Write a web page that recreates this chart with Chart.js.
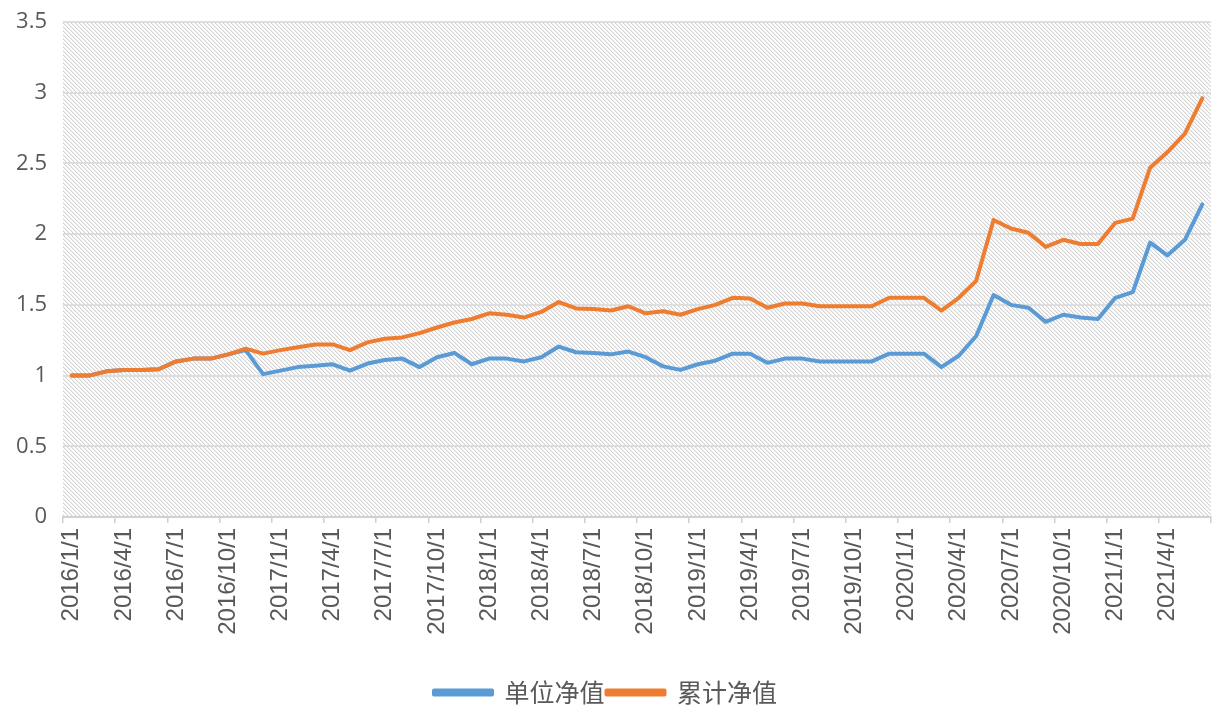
<!DOCTYPE html>
<html lang="zh">
<head>
<meta charset="UTF-8">
<title>净值走势</title>
<script src="https://cdn.jsdelivr.net/npm/chart.js"></script>
<style>
  html, body { margin: 0; padding: 0; background: #fff; }
  #wrap { width: 1214px; height: 707px; }
</style>
</head>
<body>
<div id="wrap"><canvas id="myChart" width="1214" height="707"></canvas></div>
<script>
// monthly dates, 2016/1 .. 2021/6
var meses = [];
for (var y = 2016; y <= 2021; y++) {
    for (var m = 1; m <= 12; m++) {
        if (y === 2021 && m > 6) break;
        meses.push(y + '/' + m + '/1');
    }
}

var nombreUnidad = '单位净值';
var nombreAcum = '累计净值';

var unidad = [1.00, 1.00, 1.03, 1.04, 1.04, 1.045, 1.10, 1.12, 1.12, 1.15,
    1.18, 1.01, 1.035, 1.06, 1.07, 1.08, 1.035, 1.085, 1.11, 1.12,
    1.06, 1.13, 1.16, 1.08, 1.12, 1.12, 1.10, 1.13, 1.205, 1.165,
    1.16, 1.15, 1.17, 1.13, 1.065, 1.04, 1.08, 1.105, 1.155, 1.155,
    1.09, 1.12, 1.12, 1.10, 1.10, 1.10, 1.10, 1.155, 1.155, 1.155,
    1.06, 1.14, 1.28, 1.57, 1.50, 1.48, 1.38, 1.43, 1.41, 1.40,
    1.55, 1.59, 1.94, 1.85, 1.96, 2.21];

var acumulado = [1.00, 1.00, 1.03, 1.04, 1.04, 1.045, 1.10, 1.12, 1.12, 1.15,
    1.19, 1.155, 1.18, 1.20, 1.22, 1.22, 1.18, 1.235, 1.26, 1.27,
    1.30, 1.34, 1.375, 1.40, 1.44, 1.43, 1.41, 1.45, 1.52, 1.475,
    1.47, 1.46, 1.49, 1.44, 1.455, 1.43, 1.47, 1.50, 1.55, 1.545,
    1.48, 1.51, 1.51, 1.49, 1.49, 1.49, 1.49, 1.55, 1.55, 1.55,
    1.46, 1.55, 1.67, 2.10, 2.04, 2.01, 1.91, 1.96, 1.93, 1.93,
    2.08, 2.11, 2.47, 2.58, 2.71, 2.96];

// diagonal hatch for the plot area
function hacerPatron(ctx) {
    var c = document.createElement('canvas');
    c.width = 4; c.height = 4;
    var g = c.getContext('2d');
    g.fillStyle = '#ffffff';
    g.fillRect(0, 0, 4, 4);
    for (var i = 0; i < 4; i++) {
        g.fillStyle = '#d2d2d2';
        g.fillRect(i, i, 1, 1);
        g.fillStyle = '#eeeeee';
        g.fillRect((i + 1) % 4, i, 1, 1);
    }
    return ctx.createPattern(c, 'repeat');
}

var fondoRayado = {
    id: 'fondoRayado',
    beforeDraw: function (chart) {
        var a = chart.chartArea;
        var ctx = chart.ctx;
        ctx.save();
        ctx.fillStyle = hacerPatron(ctx);
        ctx.fillRect(a.left, a.top, a.right - a.left, a.bottom - a.top);
        ctx.restore();
    }
};

var data = {
    labels: meses,
    datasets: [{
        label: nombreUnidad,
        data: unidad,
        borderColor: '#5B9BD5',
        backgroundColor: '#5B9BD5',
        borderWidth: 4,
        pointRadius: 0,
        tension: 0,
        borderJoinStyle: 'round',
        borderCapStyle: 'round',
        order: 1
    }, {
        label: nombreAcum,
        data: acumulado,
        borderColor: '#ED7D31',
        backgroundColor: '#ED7D31',
        borderWidth: 4,
        pointRadius: 0,
        tension: 0,
        borderJoinStyle: 'round',
        borderCapStyle: 'round',
        order: 0
    }]
};

var config = {
    type: 'line',
    data: data,
    plugins: [fondoRayado],
    options: {
        responsive: false,
        animation: false,
        layout: { padding: { top: 22, right: 3, left: 0, bottom: -8 } },
        plugins: {
            tooltip: { enabled: false },
            legend: {
                position: 'bottom',
                labels: {
                    boxWidth: 58,
                    boxHeight: 4,
                    padding: 2,
                    color: '#595959',
                    font: { family: '"Noto Sans CJK SC"', size: 25 },
                    sort: function (a, b) { return a.datasetIndex - b.datasetIndex; }
                }
            }
        },
        scales: {
            x: {
                offset: true,
                grid: {
                    offset: true,
                    drawOnChartArea: false,
                    drawTicks: true,
                    tickLength: 6,
                    lineWidth: 1.5,
                    color: function (c) {
                        if (c.type === 'scale') return '#d0d0d0';
                        return c.index % 3 === 0 ? '#d0d0d0' : 'rgba(0,0,0,0)';
                    }
                },
                border: { display: true, color: '#d0d0d0', width: 2 },
                ticks: {
                    autoSkip: false,
                    minRotation: 90,
                    maxRotation: 90,
                    padding: 5,
                    color: '#595959',
                    font: { family: '"Liberation Sans", Arial', size: 24 },
                    callback: function (v, i) {
                        return i % 3 === 0 ? meses[i] : '';
                    }
                },
                afterFit: function (s) {
                    s.height = 161;
                    s.paddingLeft = 0;
                    s.paddingRight = 0;
                }
            },
            y: {
                min: 0,
                max: 3.5,
                grid: { color: '#dedede', lineWidth: 2, drawTicks: false },
                border: { display: false },
                ticks: {
                    stepSize: 0.5,
                    padding: 16,
                    color: '#595959',
                    font: { family: '"Open Sans"', size: 22 },
                    callback: function (v) { return String(v); }
                },
                afterFit: function (s) {
                    s.width = 63;
                    s.paddingTop = 0;
                    s.paddingBottom = 0;
                }
            }
        }
    }
};

var myChart = new Chart(document.getElementById('myChart'), config);
</script>
</body>
</html>
